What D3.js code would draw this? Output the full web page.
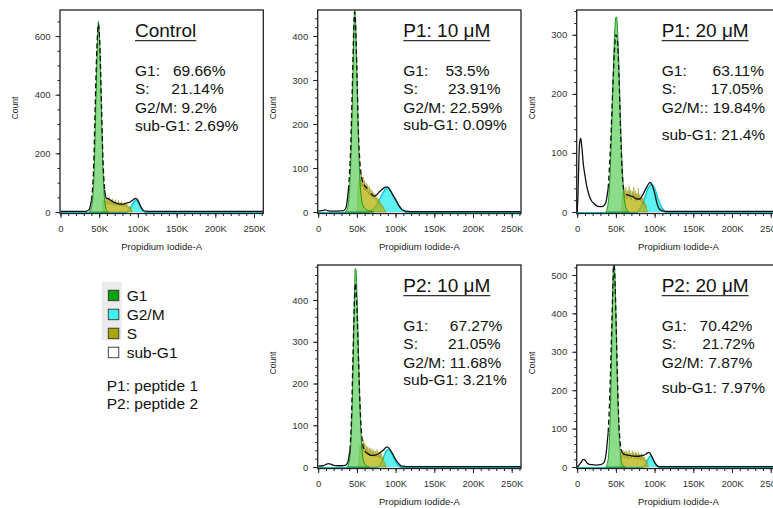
<!DOCTYPE html>
<html>
<head>
<meta charset="utf-8">
<script src="https://cdn.jsdelivr.net/npm/d3@7"></script>
<style>
  body { margin: 0; background: #fff; }
  svg { display: block; font-family: "Liberation Sans", Arial, sans-serif; }
</style>
</head>
<body>
<svg id="chart" width="773" height="508"></svg>
<script>
// Data (x in K of Propidium Iodide-A, y in counts)
const xTicks = [0, 50, 100, 150, 200, 250]
const titles = ['Control', 'P1: 10 \u03bcM', 'P1: 20 \u03bcM', 'P2: 10 \u03bcM', 'P2: 20 \u03bcM']
const statLines = [
    ['G1:   69.66%', 'S:     21.14%', 'G2/M: 9.2%', 'sub-G1: 2.69%'],
    ['G1:    53.5%', 'S:       23.91%', 'G2/M: 22.59%', 'sub-G1: 0.09%'],
    ['G1:      63.11%', 'S:        17.05%', 'G2/M:: 19.84%', 'sub-G1: 21.4%'],
    ['G1:     67.27%', 'S:       21.05%', 'G2/M: 11.68%', 'sub-G1: 3.21%'],
    ['G1:   70.42%', 'S:      21.72%', 'G2/M: 7.87%', 'sub-G1: 7.97%']
]
const yMaxes = [689, 459, 342, 484, 526]
const yMajorSteps = [200, 100, 100, 100, 100]
const yMinorSteps = [50, 20, 20, 20, 20]
const legendKeys = ['G1', 'G2/M', 'S', 'sub-G1']
const notes = ['P1: peptide 1', 'P2: peptide 2']

const controlTotal = [[0,2],[10,2],[20,2],[30,2],[34,3],[37,8],[40,40],[43,170],[45,380],[47,560],[49,640],[51,560],[53,360],[55,170],[57,75],[59,48],[62,45],[66,38],[70,32],[75,28],[80,27],[85,30],[90,34],[94,42],[97,46],[100,40],[103,22],[106,8],[109,3],[120,2],[160,2],[200,2],[262,2]]
const controlG1 = [[37,0],[40,15],[42,60],[44,180],[46,400],[48,600],[49,650],[50,620],[52,440],[54,220],[56,80],[58,20],[60,4],[62,0]]
const controlS = [[54,0],[55,40],[56,28],[57,52],[58,30],[59,48],[60,25],[61,44],[62,30],[63,50],[64,24],[65,40],[66,28],[67,45],[68,22],[69,38],[70,26],[71,42],[72,20],[73,34],[74,24],[75,40],[76,20],[77,32],[78,22],[79,36],[80,18],[81,30],[82,20],[83,32],[84,18],[85,28],[86,16],[87,25],[88,14],[89,20],[90,10],[91,14],[92,5],[93,0]]
const controlG2M = [[0,0],[84,0],[87,6],[90,16],[93,30],[96,40],[98,42],[100,36],[103,22],[106,9],[109,2],[111,0],[262,0]]

const p1Low_Total = [[0,2],[5,3],[9,5],[12,3],[15,2],[25,2],[33,3],[36,10],[39,50],[42,150],[44,280],[46,420],[47,455],[48,440],[50,320],[52,180],[54,110],[56,80],[58,65],[60,60],[64,52],[68,42],[72,36],[75,38],[78,44],[82,50],[86,56],[89,57],[92,52],[96,40],[100,28],[104,15],[108,6],[112,2],[120,1],[262,1]]
const p1Low_G1 = [[35,0],[38,10],[40,40],[42,110],[44,240],[46,400],[47,459],[48,440],[50,320],[52,170],[54,70],[56,30],[58,14],[62,6],[68,2],[72,0]]
const p1Low_S = [[50,0],[51,40],[52,70],[53,55],[54,95],[55,60],[56,85],[57,58],[58,80],[59,50],[60,72],[61,48],[62,66],[63,45],[64,62],[65,40],[66,58],[67,38],[68,52],[69,35],[70,48],[71,32],[72,44],[73,30],[74,40],[75,26],[76,35],[77,22],[78,30],[79,18],[80,24],[81,14],[82,18],[83,10],[84,12],[85,6],[86,6],[87,2],[88,0]]
const p1Low_G2M = [[0,0],[64,0],[68,4],[72,10],[76,20],[80,33],[84,46],[88,56],[90,57],[93,52],[96,42],[100,30],[104,17],[108,8],[112,3],[116,0],[262,0]]

const p1High_Total = [[0,0],[1,30],[2,80],[3,115],[4.5,125],[6,110],[8,80],[10,62],[12,46],[15,30],[18,20],[22,14],[26,10],[30,9],[34,10],[37,16],[40,40],[43,110],[46,210],[48,270],[50,300],[52,290],[54,230],[56,140],[58,70],[60,38],[63,30],[67,28],[72,26],[77,22],[81,22],[85,30],[89,40],[92,47],[94,50],[97,45],[100,32],[103,15],[106,5],[110,2],[120,1],[262,1]]
const p1High_G1 = [[37,0],[40,15],[42,50],[44,120],[46,210],[48,290],[50,330],[51,330],[52,310],[54,240],[56,150],[58,80],[60,35],[62,12],[64,4],[67,0]]
const p1High_S = [[57,0],[58,22],[59,35],[60,20],[61,38],[62,25],[63,42],[64,22],[65,36],[66,28],[67,44],[68,24],[69,38],[70,20],[71,35],[72,26],[73,42],[74,22],[75,36],[76,18],[77,32],[78,24],[79,40],[80,20],[81,30],[82,18],[83,28],[84,14],[85,24],[86,12],[87,18],[88,8],[89,12],[90,4],[91,0]]
const p1High_G2M = [[0,0],[76,0],[80,5],[84,14],[88,28],[91,40],[94,46],[96,48],[98,46],[101,38],[104,26],[107,15],[110,7],[113,2],[116,0],[262,0]]

const p2Low_Total = [[0,2],[6,3],[10,6],[13,8],[16,7],[20,4],[25,3],[30,3],[35,4],[38,10],[41,40],[43,120],[45,270],[47,410],[48,440],[50,380],[52,260],[54,150],[56,80],[58,50],[60,38],[64,32],[68,28],[72,28],[76,30],[80,34],[84,40],[87,46],[89,48],[92,44],[96,32],[100,18],[104,8],[108,2],[115,1],[262,1]]
const p2Low_G1 = [[37,0],[40,12],[42,50],[44,150],[46,330],[48,476],[49,470],[50,420],[52,280],[54,140],[56,55],[58,20],[60,8],[63,2],[66,0]]
const p2Low_S = [[52,0],[53,30],[54,52],[55,40],[56,62],[57,45],[58,66],[59,40],[60,58],[61,36],[62,52],[63,34],[64,48],[65,30],[66,46],[67,28],[68,44],[69,26],[70,42],[71,28],[72,40],[73,24],[74,38],[75,26],[76,42],[77,24],[78,36],[79,22],[80,38],[81,20],[82,32],[83,16],[84,24],[85,10],[86,12],[87,4],[88,0]]
const p2Low_G2M = [[0,0],[76,0],[79,6],[82,15],[85,28],[88,40],[90,44],[92,42],[95,34],[98,22],[101,12],[104,5],[107,1],[110,0],[262,0]]

const p2High_Total = [[0,0],[2,4],[5,12],[8,20],[10,18],[13,10],[16,7],[20,6],[25,5],[30,6],[34,10],[37,30],[40,90],[42,180],[44,320],[46,460],[47,526],[48,520],[50,400],[52,230],[54,110],[56,55],[58,38],[62,32],[68,30],[75,28],[80,28],[85,30],[89,34],[92,38],[94,36],[97,25],[100,12],[103,4],[106,1],[262,1]]
const p2High_G1 = [[37,0],[40,20],[42,90],[44,250],[46,460],[47,526],[48,526],[49,480],[50,400],[52,220],[54,90],[56,30],[58,8],[60,2],[62,0]]
const p2High_S = [[55,0],[56,30],[57,40],[58,24],[59,44],[60,28],[61,40],[62,22],[63,42],[64,26],[65,38],[66,20],[67,44],[68,24],[69,36],[70,22],[71,42],[72,26],[73,38],[74,20],[75,40],[76,24],[77,36],[78,18],[79,40],[80,22],[81,34],[82,18],[83,36],[84,20],[85,30],[86,16],[87,26],[88,14],[89,20],[90,8],[91,10],[92,0]]
const p2High_G2M = [[0,0],[84,0],[87,6],[90,16],[92,24],[94,30],[96,28],[99,18],[102,8],[105,2],[107,0],[262,0]]

const totals = [controlTotal, p1Low_Total, p1High_Total, p2Low_Total, p2High_Total]
const g1s = [controlG1, p1Low_G1, p1High_G1, p2Low_G1, p2High_G1]
const ss = [controlS, p1Low_S, p1High_S, p2Low_S, p2High_S]
const g2ms = [controlG2M, p1Low_G2M, p1High_G2M, p2Low_G2M, p2High_G2M]

// Presentation
const plotW = 203.3
const plotH = 203.5
const layout = [
    { left: 60, top: 10, textX: 75, subY: 120.5 },
    { left: 317.7, top: 10, textX: 85.6, subY: 120 },
    { left: 576.7, top: 10, textX: 85, subY: 129.5 },
    { left: 317.7, top: 265, textX: 85.6, subY: 119.5 },
    { left: 576.7, top: 265, textX: 85, subY: 127.5 }
]
const colors = {
    g1Fill: '#66d066', g1Stroke: '#1e961e',
    sFill: '#b4af00', sStroke: '#8f8c00',
    g2mFill: '#38efef', g2mStroke: '#10c8d4'
}

const svg = d3.select('#chart')

titles.forEach((title, i) => {
    const L = layout[i]
    const x = d3.scaleLinear().domain([0, 262]).range([0.5, plotW])
    const y = d3.scaleLinear().domain([0, yMaxes[i]]).range([plotH - 1.5, 0])
    const g = svg.append('g').attr('transform', `translate(${L.left},${L.top})`)

    g.append('clipPath').attr('id', `clip${i}`)
        .append('rect').attr('width', plotW).attr('height', plotH)
    const plot = g.append('g').attr('clip-path', `url(#clip${i})`)

    const area = curve => d3.area().x(d => x(d[0])).y0(y(0)).y1(d => y(d[1])).curve(curve)
    const line = curve => d3.line().x(d => x(d[0])).y(d => y(d[1])).curve(curve)

    // G2/M (its stroke also runs along the baseline)
    plot.append('path').datum(g2ms[i])
        .attr('d', area(d3.curveMonotoneX))
        .attr('fill', colors.g2mFill).attr('fill-opacity', 0.8)
    plot.append('path').datum(g2ms[i])
        .attr('d', line(d3.curveMonotoneX))
        .attr('transform', 'translate(0,0.8)')
        .attr('fill', 'none').attr('stroke', colors.g2mStroke).attr('stroke-width', 1.4)
    // S
    plot.append('path').datum(ss[i])
        .attr('d', area(d3.curveLinear))
        .attr('fill', colors.sFill).attr('fill-opacity', 0.72)
        .attr('stroke', colors.sStroke).attr('stroke-width', 0.6).attr('stroke-opacity', 0.8)
    // G1
    plot.append('path').datum(g1s[i])
        .attr('d', area(d3.curveMonotoneX))
        .attr('fill', colors.g1Fill).attr('fill-opacity', 0.75)
        .attr('stroke', colors.g1Stroke).attr('stroke-width', 1)

    // total histogram, dashed over the G1 peak
    const nz = g1s[i].filter(d => d[1] > 0)
    const lo = nz[0][0], hi = nz[nz.length - 1][0] - 2
    const tot = totals[i]
    const parts = [
        { pts: tot.filter(d => d[0] <= lo + 1), dash: null },
        { pts: tot.filter(d => d[0] >= lo && d[0] <= hi), dash: '5,3' },
        { pts: tot.filter(d => d[0] >= hi - 1), dash: null }
    ]
    parts.forEach(p => {
        plot.append('path').datum(p.pts)
            .attr('d', line(d3.curveMonotoneX))
            .attr('fill', 'none').attr('stroke', '#111').attr('stroke-width', 1.3)
            .attr('stroke-dasharray', p.dash)
    })

    // box
    g.append('rect').attr('width', plotW).attr('height', plotH)
        .attr('fill', 'none').attr('stroke', '#222').attr('stroke-width', 1.3)

    // axes
    const tickStyle = sel => {
        sel.select('.domain').remove()
        sel.selectAll('line').attr('stroke', '#222')
        sel.selectAll('text').attr('fill', '#333').style('font-size', '9.5px')
            .style('font-family', '"Liberation Sans", Arial, sans-serif')
    }
    g.append('g').attr('transform', `translate(0,${plotH})`)
        .call(d3.axisBottom(x).tickValues(d3.range(0, 261, 10)).tickSize(2.5).tickFormat(''))
        .call(tickStyle)
    g.append('g').attr('transform', `translate(0,${plotH})`)
        .call(d3.axisBottom(x).tickValues(xTicks).tickSize(4.5).tickPadding(7.5)
            .tickFormat(d => d ? d + 'K' : '0'))
        .call(tickStyle)
    g.append('g')
        .call(d3.axisLeft(y).tickValues(d3.range(0, yMaxes[i], yMinorSteps[i])).tickSize(2.5).tickFormat(''))
        .call(tickStyle)
    g.append('g')
        .call(d3.axisLeft(y).tickValues(d3.range(0, yMaxes[i], yMajorSteps[i])).tickSize(4.5).tickPadding(5))
        .call(tickStyle)

    g.append('text').attr('x', plotW / 2).attr('y', 240)
        .attr('text-anchor', 'middle').attr('fill', '#222').style('font-size', '9.5px')
        .text('Propidium Iodide-A')
    g.append('text').attr('transform', `translate(-42,98) rotate(-90)`)
        .attr('text-anchor', 'middle').attr('fill', '#222').style('font-size', '8.5px')
        .text('Count')

    // title + stats
    const t = g.append('text').attr('x', L.textX).attr('y', 27.3)
        .attr('fill', '#111').style('font-size', '19px').text(title)
    const tw = t.node().getComputedTextLength()
    g.append('line').attr('x1', L.textX).attr('x2', L.textX + tw)
        .attr('y1', 30.7).attr('y2', 30.7).attr('stroke', '#333').attr('stroke-width', 1.2)
    const ys = [66, 84.3, 102.7, L.subY]
    statLines[i].forEach((s, k) => {
        // non-breaking spaces keep the column gaps of the original
        g.append('text').attr('x', L.textX).attr('y', ys[k])
            .attr('fill', '#111').style('font-size', '15.5px')
            .text(s.replace(/ /g, '\u00a0'))
    })
})

// Legend
const legendColors = ['#06a406', '#3ef2f2', '#a8a600', '#ffffff']
const legend = svg.append('g')
legend.append('rect').attr('x', 101.7).attr('y', 281.7).attr('width', 20).attr('height', 58.3)
    .attr('fill', '#ebebeb')
legendKeys.forEach((k, i) => {
    const by = 301 + i * 19
    legend.append('rect').attr('x', 108.3).attr('y', by - 10.8).attr('width', 10.5).attr('height', 10.5)
        .attr('fill', legendColors[i]).attr('stroke', '#333').attr('stroke-width', 0.9)
    legend.append('text').attr('x', 126.7).attr('y', by)
        .attr('fill', '#111').style('font-size', '15.5px').text(k)
})
notes.forEach((n, i) => {
    legend.append('text').attr('x', 106.7).attr('y', 390.7 + i * 18.7)
        .attr('fill', '#111').style('font-size', '15.5px').text(n)
})
</script>
</body>
</html>
